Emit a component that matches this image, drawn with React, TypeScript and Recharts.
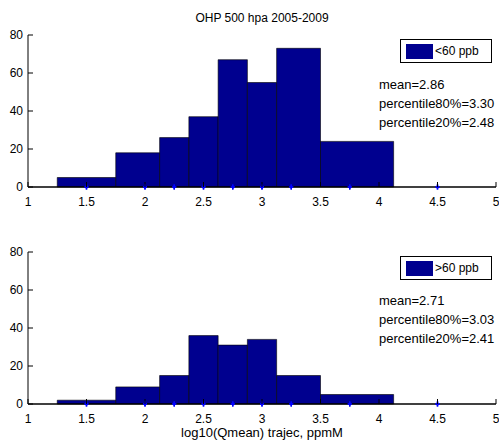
import React from "react";
import { ComposedChart, XAxis, YAxis, ReferenceArea, ReferenceDot, Scatter } from "recharts";

// histogram bins (MATLAB hist with uneven centres)
const binEdges = [1.25, 1.75, 2.125, 2.375, 2.625, 2.875, 3.125, 3.5, 4.125, 4.875];
const binCenters = [1.5, 2, 2.25, 2.5, 2.75, 3, 3.25, 3.75, 4.5];
const countsLow = [5, 18, 26, 37, 67, 55, 73, 24, 0];
const countsHigh = [2, 9, 15, 36, 31, 34, 15, 5, 0];
const xTicks = [1, 1.5, 2, 2.5, 3, 3.5, 4, 4.5, 5];
const yTicks = [0, 20, 40, 60, 80];

const FONT = "'Liberation Sans', Arial, Helvetica, sans-serif";
const BAR_FILL = "#00008f";
const TICK_LEN = 5;

function LeftTick({ x, y, payload }: any) {
  const ax = x + 5;
  return (
    <g>
      <line x1={ax} x2={ax + TICK_LEN} y1={y} y2={y} stroke="#000" />
      <text x={x} y={y} dy={4} textAnchor="end" fontSize={12} fontFamily={FONT} fill="#000">
        {payload.value}
      </text>
    </g>
  );
}

function RightTick({ x, y }: any) {
  return <line x1={x - TICK_LEN} x2={x} y1={y} y2={y} stroke="#000" />;
}

function BottomTick({ x, y, payload }: any) {
  const ay = y - 8;
  return (
    <g>
      <line x1={x} x2={x} y1={ay} y2={ay - TICK_LEN} stroke="#000" />
      <text x={x} y={y} dy={11} textAnchor="middle" fontSize={12} fontFamily={FONT} fill="#000">
        {payload.value}
      </text>
    </g>
  );
}

function TopTick({ x, y }: any) {
  return <line x1={x} x2={x} y1={y} y2={y + TICK_LEN} stroke="#000" />;
}

function Marker({ cx, cy }: any) {
  if (cx == null || cy == null) return <g />;
  return (
    <g>
      <line x1={cx} x2={cx} y1={cy - 2.5} y2={cy + 2.5} stroke="#0000ff" strokeWidth={1.5} />
      <line x1={cx - 2} x2={cx + 2} y1={cy} y2={cy} stroke="#0000ff" strokeWidth={1.5} />
    </g>
  );
}

function Histogram({ counts }: { counts: number[] }) {
  const markers = binCenters.map((c) => ({ x: c, y: 0 }));
  return (
    <ComposedChart width={499} height={210} margin={{ top: 35, right: 3, bottom: 3, left: 0 }}>
      <XAxis
        dataKey="x"
        type="number"
        domain={[1, 5]}
        ticks={xTicks}
        height={20}
        tickSize={0}
        tickMargin={8}
        tickLine={false}
        tick={<BottomTick />}
        axisLine={{ stroke: "#000", strokeWidth: 1.5 }}
        interval={0}
      />
      <XAxis
        xAxisId="top"
        orientation="top"
        dataKey="x"
        type="number"
        domain={[1, 5]}
        ticks={xTicks}
        height={0}
        tickSize={0}
        tickMargin={0}
        tickLine={false}
        tick={<TopTick />}
        axisLine={{ stroke: "#000" }}
        interval={0}
      />
      <YAxis
        type="number"
        domain={[0, 80]}
        ticks={yTicks}
        width={28}
        tickSize={0}
        tickMargin={5}
        tickLine={false}
        tick={<LeftTick />}
        axisLine={{ stroke: "#000" }}
        interval={0}
      />
      <YAxis
        yAxisId="right"
        orientation="right"
        type="number"
        domain={[0, 80]}
        ticks={yTicks}
        width={0}
        tickSize={0}
        tickMargin={0}
        tickLine={false}
        tick={<RightTick />}
        axisLine={{ stroke: "#000" }}
        interval={0}
      />
      {counts.map((c, i) =>
        c > 0 ? (
          <ReferenceArea
            key={i}
            x1={binEdges[i]}
            x2={binEdges[i + 1]}
            y1={0}
            y2={c}
            fill={BAR_FILL}
            fillOpacity={1}
            stroke="#000"
            strokeWidth={0.6}
          />
        ) : null
      )}
      <Scatter data={markers} dataKey="y" shape={<Marker />} isAnimationActive={false} />
      {binCenters.map((c) => (
        <ReferenceDot key={c} x={c} y={0} ifOverflow="visible" shape={<Marker />} />
      ))}
    </ComposedChart>
  );
}

const textStyle: React.CSSProperties = {
  position: "absolute",
  fontFamily: FONT,
  fontSize: 13,
  lineHeight: "15px",
  color: "#000",
  whiteSpace: "nowrap",
};

function LegendBox({ top, label }: { top: number; label: string }) {
  return (
    <div
      style={{
        position: "absolute",
        left: 400,
        top,
        width: 90,
        height: 22,
        border: "1px solid #000",
        background: "#fff",
      }}
    >
      <div style={{ position: "absolute", left: 5, top: 4, width: 27, height: 15, background: BAR_FILL }} />
      <div style={{ ...textStyle, fontSize: 12, left: 34, top: 4 }}>{label}</div>
    </div>
  );
}

function Stats({ top, lines }: { top: number; lines: string[] }) {
  return (
    <>
      {lines.map((l, i) => (
        <div key={i} style={{ ...textStyle, left: 379, top: top + i * 19 }}>
          {l}
        </div>
      ))}
    </>
  );
}

export default function App() {
  return (
    <div style={{ position: "absolute", left: 0, top: 0, width: 499, height: 442, background: "#fff", overflow: "hidden" }}>
      <div style={{ ...textStyle, fontSize: 12, left: 28, width: 468, top: 11, textAlign: "center" }}>
        OHP 500 hpa 2005-2009
      </div>
      <div style={{ position: "absolute", left: 0, top: 0 }}>
        <Histogram counts={countsLow} />
      </div>
      <div style={{ position: "absolute", left: 0, top: 217 }}>
        <Histogram counts={countsHigh} />
      </div>
      <LegendBox top={39} label="<60 ppb" />
      <LegendBox top={256} label=">60 ppb" />
      <Stats top={77} lines={["mean=2.86", "percentile80%=3.30", "percentile20%=2.48"]} />
      <Stats top={293} lines={["mean=2.71", "percentile80%=3.03", "percentile20%=2.41"]} />
      <div style={{ ...textStyle, left: 28, width: 468, top: 425, textAlign: "center" }}>
        log10(Qmean) trajec, ppmM
      </div>
    </div>
  );
}
